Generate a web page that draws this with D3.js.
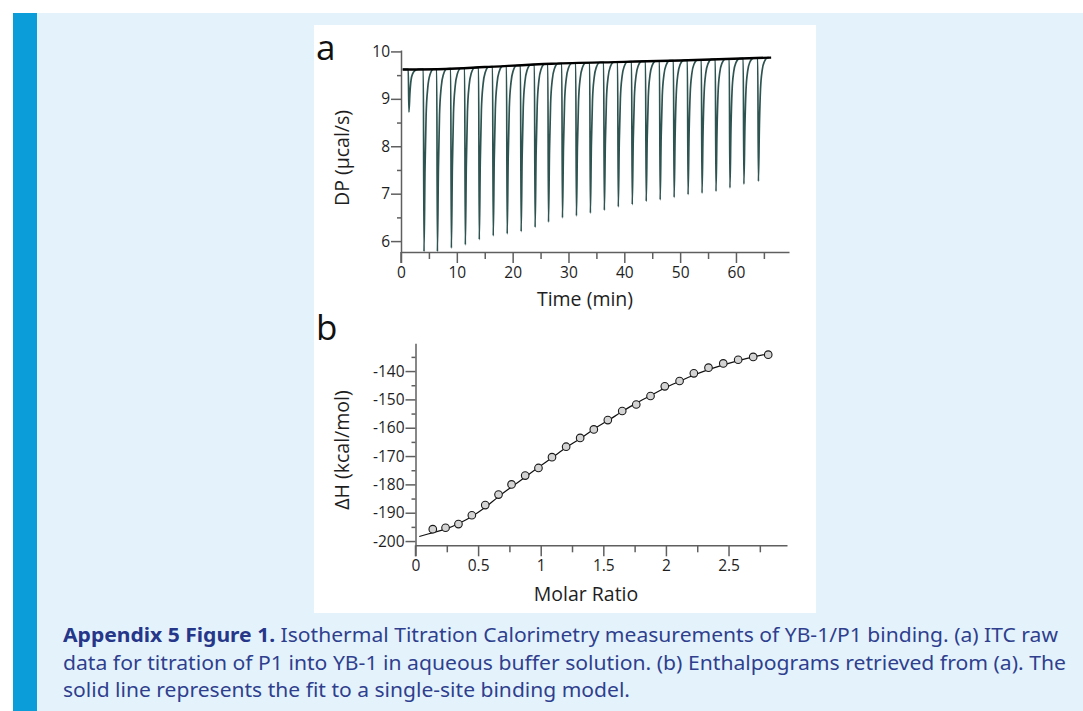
<!DOCTYPE html>
<html><head><meta charset="utf-8">
<script src="https://cdn.jsdelivr.net/npm/d3@7"></script>
<style>
html,body{margin:0;padding:0;background:#fff;}
svg{display:block;}
</style></head>
<body>
<svg id="fig" width="1083" height="711"></svg>
<script>
// ---------- DATA ----------
// Panel a: injection times (min) and peak minimum DP (µcal/s)
const injTimes = [1.3,4.0,6.4,8.9,11.4,13.9,16.4,18.9,21.4,23.9,26.3,28.8,31.3,33.8,36.3,38.8,41.3,43.8,46.3,48.8,51.3,53.8,56.3,58.8,61.3,63.9];
const peakMins = [8.72,5.78,5.78,5.85,5.92,6.03,6.11,6.15,6.20,6.29,6.40,6.49,6.53,6.59,6.65,6.72,6.77,6.84,6.87,6.92,6.98,7.01,7.05,7.12,7.20,7.26];
// baseline (min, µcal/s)
const baseT = [0.3,8,15,27,40,50,66.3];
const baseV = [9.62,9.63,9.67,9.74,9.78,9.81,9.87];
// peak shape: minutes after injection, fraction of depth
const profT = [0,0.12,0.3,0.5,0.8,1.2,1.8];
const profF = [0,1,0.55,0.25,0.1,0.03,0];
const xTicksA = [0,10,20,30,40,50,60];
const yTicksA = [6,7,8,9,10];

// Panel b: molar ratio and ΔH (kcal/mol)
const molarRatio = [0.138,0.24,0.343,0.45,0.557,0.663,0.767,0.876,0.982,1.09,1.203,1.315,1.424,1.536,1.651,1.763,1.877,1.991,2.109,2.223,2.34,2.458,2.577,2.697,2.817];
const dH = [-195.8,-195.3,-194.0,-190.9,-187.3,-183.6,-180.0,-176.9,-174.2,-170.4,-166.7,-163.6,-160.6,-157.3,-154.1,-151.8,-148.8,-145.4,-143.5,-140.8,-138.8,-137.3,-136.0,-135.0,-134.2];
const fitX = [0.03,0.14,0.25,0.35,0.45,0.56,0.66,0.77,0.88,0.98,1.09,1.20,1.32,1.42,1.54,1.65,1.76,1.88,1.99,2.11,2.22,2.34,2.46,2.58,2.70,2.82];
const fitY = [-198.4,-197.0,-195.6,-193.7,-191.3,-188.0,-184.4,-180.8,-177.3,-174.0,-170.6,-167.1,-163.7,-160.6,-157.4,-154.3,-151.4,-148.6,-146.0,-143.6,-141.5,-139.5,-137.8,-136.3,-135.0,-133.9];
const xTicksB = [0,0.5,1,1.5,2,2.5];
const xTickLabelsB = ["0","0.5","1","1.5","2","2.5"];
const yTicksB = [-200,-190,-180,-170,-160,-150,-140];

const captionLines = [
  [["Appendix 5 Figure 1.", true],[" Isothermal Titration Calorimetry measurements of YB-1/P1 binding. (a) ITC raw", false]],
  [["data for titration of P1 into YB-1 in aqueous buffer solution. (b) Enthalpograms retrieved from (a). The", false]],
  [["solid line represents the fit to a single-site binding model.", false]]
];

// ---------- DRAW ----------
const svg = d3.select("#fig");
const FONT = "'Open Sans', 'Noto Sans', sans-serif";
const AX = "#5f5f5f", TXT = "#1e1e1e";

svg.append("rect").attr("x",13).attr("y",13).attr("width",1070).attr("height",698).attr("fill","#e4f3fb");
svg.append("rect").attr("x",13).attr("y",13).attr("width",24).attr("height",698).attr("fill","#0b9dd9");
svg.append("rect").attr("x",314).attr("y",25).attr("width",502).attr("height",588).attr("fill","#fff");

// ---- Panel a ----
const xA = d3.scaleLinear().domain([0,69.5]).range([401,789]);
const yA = d3.scaleLinear().domain([5.77,10.03]).range([252,50]);
const baseAt = d3.scaleLinear().domain(baseT).range(baseV);

const gA = svg.append("g");
const trace = [];
trace.push([baseT[0], baseAt(baseT[0])]);
injTimes.forEach((t0,i)=>{
  const b0 = baseAt(t0);
  const depth = b0 - peakMins[i];
  profT.forEach((dt,j)=>{
    const t = t0+dt;
    trace.push([t, baseAt(t) - depth*profF[j]]);
  });
});
trace.push([65.9, baseAt(65.9)]);
const lineA = d3.line().x(d=>xA(d[0])).y(d=>yA(d[1])).curve(d3.curveMonotoneX);
gA.append("path").datum(trace).attr("d",lineA).attr("fill","none")
  .attr("stroke","#2e5451").attr("stroke-width",1.7).attr("stroke-linejoin","round");
gA.append("path").datum(baseT.map((t,i)=>[t,baseV[i]])).attr("d",d3.line().x(d=>xA(d[0])).y(d=>yA(d[1])).curve(d3.curveMonotoneX))
  .attr("fill","none").attr("stroke","#000").attr("stroke-width",2.4);

const fmt = d=>String(d);
const xAxisA = gA.append("g").attr("transform","translate(0,252)");
xAxisA.call(d3.axisBottom(xA).tickValues(xTicksA).tickSize(11).tickSizeOuter(0).tickFormat(fmt));
const xMinorA = gA.append("g").attr("transform","translate(0,252)");
xMinorA.call(d3.axisBottom(xA).tickValues(d3.range(5,70,10)).tickSize(7).tickSizeOuter(0).tickFormat(""));
xMinorA.select(".domain").remove();
const yAxisA = gA.append("g").attr("transform","translate(401,0)");
yAxisA.call(d3.axisLeft(yA).tickValues(yTicksA).tickSize(10).tickSizeOuter(0).tickFormat(fmt));
const yMinorA = gA.append("g").attr("transform","translate(401,0)");
yMinorA.call(d3.axisLeft(yA).tickValues([6.5,7.5,8.5,9.5]).tickSize(4).tickSizeOuter(0).tickFormat(""));
yMinorA.select(".domain").remove();
gA.append("line").attr("x1",401).attr("x2",401).attr("y1",252).attr("y2",263).attr("stroke",AX).attr("stroke-width",1.5);

// ---- Panel b ----
const xB = d3.scaleLinear().domain([0,2.967]).range([415.5,787]);
const yB = d3.scaleLinear().domain([-201.5,-130.2]).range([545.3,343.3]);
const gB = svg.append("g");
const xAxisB = gB.append("g").attr("transform","translate(0,545.3)");
xAxisB.call(d3.axisBottom(xB).tickValues(xTicksB).tickSize(11).tickSizeOuter(0).tickFormat((d,i)=>xTickLabelsB[i]));
const xMinorB = gB.append("g").attr("transform","translate(0,545.3)");
xMinorB.call(d3.axisBottom(xB).tickValues([0.25,0.75,1.25,1.75,2.25,2.75]).tickSize(7).tickSizeOuter(0).tickFormat(""));
xMinorB.select(".domain").remove();
const yAxisB = gB.append("g").attr("transform","translate(415.5,0)");
yAxisB.call(d3.axisLeft(yB).tickValues(yTicksB).tickSize(10).tickSizeOuter(0).tickFormat(fmt));
const yMinorB = gB.append("g").attr("transform","translate(415.5,0)");
yMinorB.call(d3.axisLeft(yB).tickValues([-195,-185,-175,-165,-155,-145,-135]).tickSize(4).tickSizeOuter(0).tickFormat(""));
yMinorB.select(".domain").remove();
gB.append("line").attr("x1",415.5).attr("x2",415.5).attr("y1",545.3).attr("y2",556.3).attr("stroke",AX).attr("stroke-width",1.5);

gB.append("path").datum(fitX.map((x,i)=>[x,fitY[i]]))
  .attr("d",d3.line().x(d=>xB(d[0])).y(d=>yB(d[1])).curve(d3.curveMonotoneX))
  .attr("fill","none").attr("stroke","#111").attr("stroke-width",1.2);
gB.selectAll("circle.pt").data(molarRatio).enter().append("circle")
  .attr("cx",d=>xB(d)).attr("cy",(d,i)=>yB(dH[i])).attr("r",3.8)
  .attr("fill","#d4d4d4").attr("stroke","#1a1a1a").attr("stroke-width",1.1);

svg.selectAll(".domain").attr("stroke",AX).attr("stroke-width",1.5);
svg.selectAll(".tick line").attr("stroke",AX).attr("stroke-width",1.5);
svg.selectAll(".tick text").attr("font-family",FONT).attr("font-size",15.5).attr("fill",TXT);
xAxisA.selectAll(".tick text").attr("dy","0.9em").attr("y",12);
xAxisB.selectAll(".tick text").attr("dy","0.9em").attr("y",12);
yAxisA.selectAll(".tick text").attr("x",-11);
yAxisB.selectAll(".tick text").attr("x",-11);

// titles
const TS = 19.5;
svg.append("text").attr("x",585).attr("y",306).attr("text-anchor","middle")
  .attr("font-family",FONT).attr("font-size",TS).attr("fill",TXT).text("Time (min)");
svg.append("text").attr("x",586).attr("y",601).attr("text-anchor","middle")
  .attr("font-family",FONT).attr("font-size",TS).attr("fill",TXT).text("Molar Ratio");
svg.append("text").attr("transform","translate(349,158) rotate(-90)").attr("text-anchor","middle")
  .attr("font-family",FONT).attr("font-size",TS).attr("fill",TXT).text("DP (µcal/s)");
svg.append("text").attr("transform","translate(349,450) rotate(-90)").attr("text-anchor","middle")
  .attr("font-family",FONT).attr("font-size",TS).attr("fill",TXT).text("ΔH (kcal/mol)");
svg.append("text").attr("x",316).attr("y",60).attr("font-family",FONT).attr("font-size",35).attr("fill","#111").text("a");
svg.append("text").attr("x",316).attr("y",340).attr("font-family",FONT).attr("font-size",35).attr("fill","#111").text("b");

// caption
const capBase = [642,670,697];
const capWidth = [995,1003,567];
captionLines.forEach((line,i)=>{
  const t = svg.append("text").attr("x",63).attr("y",capBase[i])
    .attr("font-family","'Noto Sans', 'Open Sans', sans-serif").attr("font-size",19.5).attr("fill","#2f3f8e")
    .attr("textLength",capWidth[i]).attr("lengthAdjust","spacingAndGlyphs");
  line.forEach(([s,b])=>{
    t.append("tspan").attr("font-weight",b?"bold":"normal").attr("fill",b?"#26378a":"#2f3f8e").text(s);
  });
});
</script>
</body></html>
